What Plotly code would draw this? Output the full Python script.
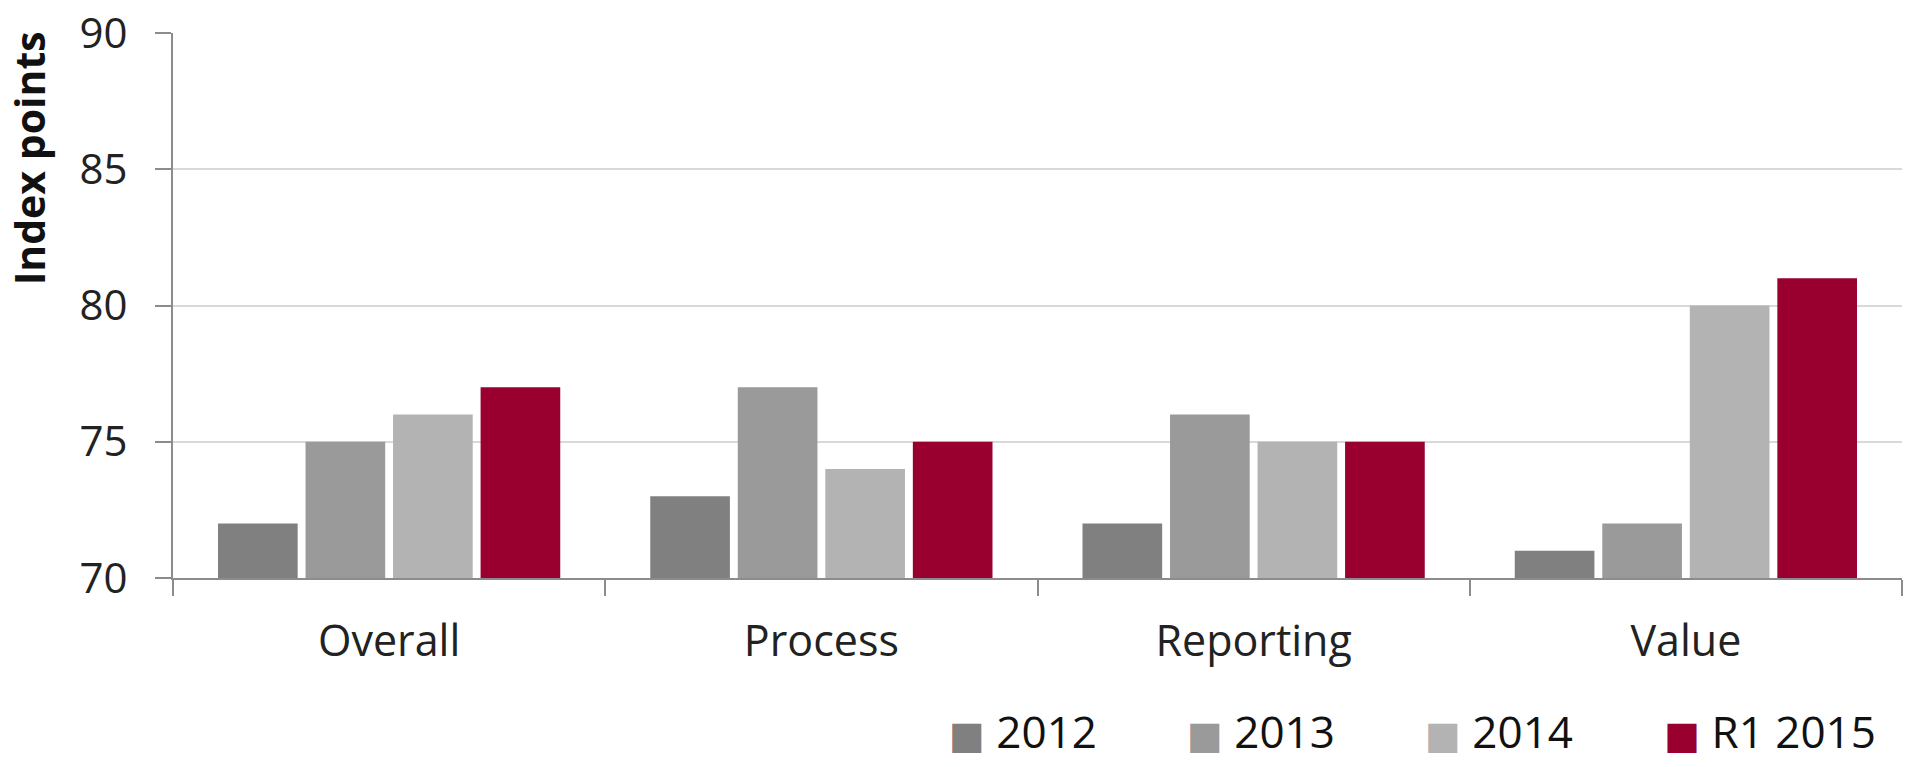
import plotly.graph_objects as go

categories = ["Overall", "Process", "Reporting", "Value"]
series_names = ["2012", "2013", "2014", "R1 2015"]
v2012 = [72, 73, 72, 71]
v2013 = [75, 77, 76, 72]
v2014 = [76, 74, 75, 80]
v2015 = [77, 75, 75, 81]
series_values = [v2012, v2013, v2014, v2015]
colors = ["#808080", "#9a9a9a", "#b3b3b3", "#990030"]
y_ticks = [70, 75, 80, 85, 90]
legend_x = [0.4257, 0.5633, 0.7010, 0.8393]

FONT = "Open Sans"

fig = go.Figure()
for name, vals, col in zip(series_names, series_values, colors):
    fig.add_trace(go.Bar(x=categories, y=vals, name=name, showlegend=False,
                         marker=dict(color=col, line=dict(width=0))))

# legend entries with larger square swatches, one legend per series
legend_ids = ["legend", "legend2", "legend3", "legend4"]
for name, col, lid in zip(series_names, colors, legend_ids):
    fig.add_trace(go.Scatter(
        x=[None], y=[None], mode="markers",
        marker=dict(color="rgba(0,0,0,0)", size=1, line=dict(width=0)),
        name=f'<span style="font-family:DejaVu Sans;font-size:38px;color:{col}">■</span> {name}',
        showlegend=True, legend=lid, hoverinfo="skip"))

legend_common = dict(orientation="h", xanchor="left", y=-0.3468, yanchor="bottom",
                     font=dict(size=44, color="#111111"), bgcolor="rgba(0,0,0,0)")

fig.update_layout(
    width=1905, height=767,
    margin=dict(l=173, r=3, t=33, b=189, autoexpand=False),
    paper_bgcolor="white", plot_bgcolor="white",
    barmode="group", bargap=0.19, bargroupgap=0.09,
    font=dict(family=FONT, size=42, color="#222222"),
    showlegend=True,
    legend=dict(x=legend_x[0], **legend_common),
    legend2=dict(x=legend_x[1], **legend_common),
    legend3=dict(x=legend_x[2], **legend_common),
    legend4=dict(x=legend_x[3], **legend_common),
    xaxis=dict(showline=True, linecolor="#8c8c8c", linewidth=2, ticks="outside",
               tickson="boundaries", ticklen=16, tickwidth=2, tickcolor="#8c8c8c",
               showgrid=False, tickfont=dict(size=43, color="#222222"), ticklabelstandoff=24),
    yaxis=dict(range=[70, 90], tickvals=y_ticks, showline=True, linecolor="#8c8c8c", linewidth=2,
               ticks="outside", ticklen=16, tickwidth=2, tickcolor="#8c8c8c",
               showgrid=True, gridcolor="#d9d9d9", gridwidth=2, zeroline=False,
               tickfont=dict(size=42, color="#222222"), ticklabelstandoff=19),
    annotations=[dict(text="Index points", xref="paper", yref="paper", x=-0.0835, y=1.006,
                      xanchor="center", yanchor="top", textangle=-90, showarrow=False,
                      font=dict(family=FONT, size=41, color="#111111", weight="bold"))],
)

fig.write_html("out.html")
